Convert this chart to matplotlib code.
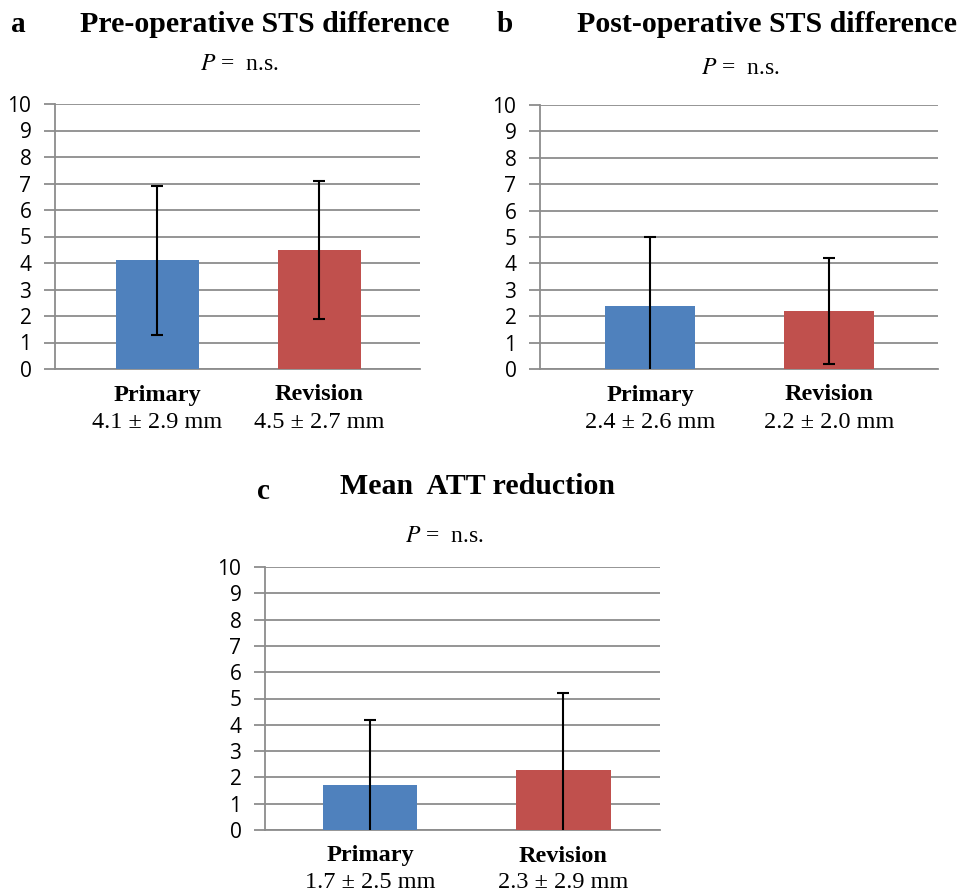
import matplotlib

matplotlib.use("Agg")
import matplotlib.pyplot as plt
from matplotlib.transforms import blended_transform_factory

plt.rcParams["mathtext.fontset"] = "stix"

W, H = 960, 889

groups = ["Primary", "Revision"]
colors = ["#4F81BD", "#C0504D"]

# bar heights and error bar half-lengths as drawn in the figure
pre_mean = [4.1, 4.5]
pre_err = [2.8, 2.6]
post_mean = [2.4, 2.2]
post_err = [2.6, 2.0]
att_mean = [1.7, 2.3]
att_err = [2.5, 2.9]

# summary text printed under each bar
pre_labels = ["4.1 \u00b1 2.9 mm", "4.5 \u00b1 2.7 mm"]
post_labels = ["2.4 \u00b1 2.6 mm", "2.2 \u00b1 2.0 mm"]
att_labels = ["1.7 \u00b1 2.5 mm", "2.3 \u00b1 2.9 mm"]

yticks = list(range(0, 11))

panels = [
    # letter, title, means, errs, labels, axes rect px (left, top, right, bottom), xlim, bar width,
    # letter pos, title pos, P pos (px)
    ("a", "Pre-operative STS difference", pre_mean, pre_err, pre_labels, (55, 104, 420, 369), (-0.63, 1.62), 0.51, (11, 25), (265, 25), (239, 65)),
    ("b", "Post-operative STS difference", post_mean, post_err, post_labels, (540, 105, 938, 369), (-0.615, 1.61), 0.50, (497, 25), (767, 25), (740, 68)),
    ("c", "Mean  ATT reduction", att_mean, att_err, att_labels, (265, 567, 660, 830), (-0.544, 1.50), 0.49, (257, 492), (478, 487), (444, 537)),
]

serif = "Liberation Serif"
grey = "#8c8c8c"
fig = plt.figure(figsize=(W / 100, H / 100), dpi=100)

for letter, title, means, errs, labels, rect, xlim, bw, lpos, tpos, ppos in panels:
    l, t, r, b = rect
    ax = fig.add_axes([l / W, 1 - b / H, (r - l) / W, (b - t) / H])
    x = list(range(len(groups)))
    ax.bar(x, means, width=bw, color=colors, zorder=3)
    ax.errorbar(x, means, yerr=errs, fmt="none", ecolor="black", elinewidth=1.5,
                capsize=4.2, capthick=1.5, zorder=4)
    ax.set_xlim(*xlim)
    ax.set_ylim(0, 10)
    ax.set_yticks(yticks)
    ax.set_yticklabels([str(v) for v in yticks], fontfamily="Open Sans", fontsize=15)
    ax.yaxis.grid(True, color=grey, linewidth=1.3, zorder=0)
    ax.tick_params(axis="y", length=8, width=1.3, color=grey, pad=9)
    ax.tick_params(axis="x", length=0, labelbottom=False)
    for s in ["top", "right"]:
        ax.spines[s].set_visible(False)
    for s in ["left", "bottom"]:
        ax.spines[s].set_color(grey)
        ax.spines[s].set_linewidth(1.3)

    trans = blended_transform_factory(ax.transData, ax.transAxes)
    for i, g in enumerate(groups):
        ax.annotate(g, xy=(i, 0), xycoords=trans, xytext=(0, -26 * 0.72),
                    textcoords="offset points", ha="center", va="center",
                    fontfamily=serif, fontweight="bold", fontsize=17.5)
        ax.annotate(labels[i], xy=(i, 0), xycoords=trans,
                    xytext=(0, -53 * 0.72), textcoords="offset points", ha="center",
                    va="center", fontfamily=serif, fontsize=17.5)

    fig.text(lpos[0] / W, 1 - lpos[1] / H, letter, ha="left", va="center",
             fontfamily=serif, fontweight="bold", fontsize=21)
    fig.text(tpos[0] / W, 1 - tpos[1] / H, title, ha="center", va="center",
             fontfamily=serif, fontweight="bold", fontsize=21.5)
    fig.text(ppos[0] / W, 1 - ppos[1] / H, r"$P$ =  n.s.", ha="center", va="center",
             fontfamily=serif, fontsize=17)

fig.savefig("out.png", dpi=100)
